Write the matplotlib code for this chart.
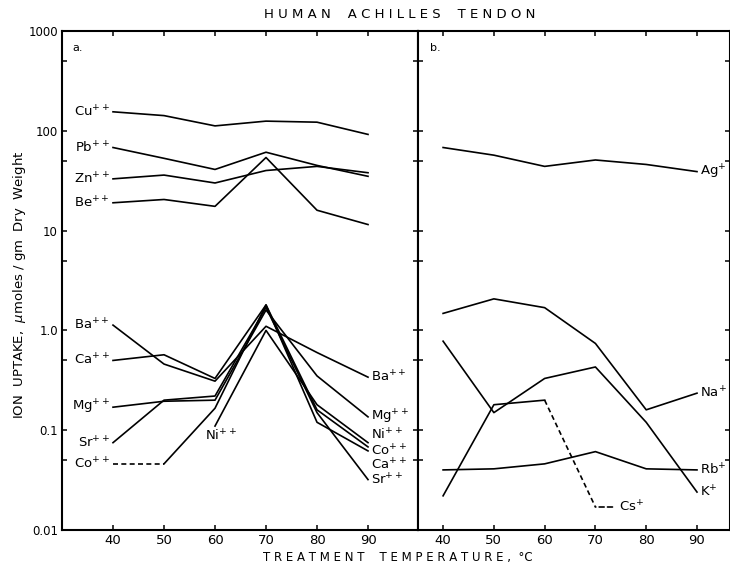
import matplotlib.pyplot as plt
from matplotlib.ticker import FixedLocator, NullFormatter

plt.rcParams['font.family'] = ['DejaVu Sans']
plt.rcParams['mathtext.fontset'] = 'dejavusans'

temps = [40, 50, 60, 70, 80, 90]

# panel a: divalent ions (umoles / gm dry weight)
cu = [155, 142, 112, 125, 122, 92]
pb = [68, 53, 41, 61, 45, 35]
zn = [33, 36, 30, 40, 44, 38]
be = [19, 20.5, 17.5, 54, 16, 11.5]
ba = [1.13, 0.46, 0.31, 1.1, 0.6, 0.34]
ca = [0.50, 0.57, 0.33, 1.8, 0.12, 0.062]
mg = [0.17, 0.195, 0.20, 1.6, 0.35, 0.136]
sr = [0.075, 0.20, 0.22, 1.7, 0.15, 0.032]
co = [0.046, 0.046, 0.166, 1.8, 0.16, 0.068]
ni_temps = [60, 70, 80, 90]
ni = [0.11, 1.0, 0.18, 0.075]

# panel b: monovalent ions
ag = [68, 57, 44, 51, 46, 39]
na = [1.48, 2.07, 1.69, 0.74, 0.16, 0.235]
k = [0.78, 0.15, 0.33, 0.43, 0.12, 0.024]
rb = [0.040, 0.041, 0.046, 0.061, 0.041, 0.040]
cs_temps = [40, 50, 60, 70]
cs = [0.022, 0.18, 0.20, 0.017]

ytick_vals = [0.01, 0.1, 1, 10, 100, 1000]
ytick_labels = ['0.01', '0.1', '1.0', '10', '100', '1000']
yminor_vals = [0.05, 0.5, 5, 50, 500]

fig = plt.figure(figsize=(7.3, 5.7), dpi=100)
ax1 = fig.add_axes([62 / 730, 1 - 530 / 570, 356 / 730, 499 / 570])
ax2 = fig.add_axes([418 / 730, 1 - 530 / 570, 312 / 730, 499 / 570])

lw = 1.2
for ax, xlim in ((ax1, (30, 99.8)), (ax2, (35.06, 96.5))):
    ax.set_yscale('log')
    ax.set_ylim(0.01, 1000)
    ax.set_xlim(*xlim)
    ax.xaxis.set_major_locator(FixedLocator(temps))
    ax.yaxis.set_major_locator(FixedLocator(ytick_vals))
    ax.yaxis.set_minor_locator(FixedLocator(yminor_vals))
    ax.yaxis.set_minor_formatter(NullFormatter())
    ax.tick_params(which='both', direction='in', top=True, right=True,
                   length=3.5, width=1.1, labelsize=9.5)
    ax.tick_params(axis='x', pad=3)
    for s in ax.spines.values():
        s.set_linewidth(1.5)

ax1.set_yticklabels(ytick_labels)
ax1.tick_params(axis='y', labelsize=8.5, pad=3)
ax2.set_yticklabels([])

# panel a lines
for vals in (cu, pb, zn, be, ba, ca, mg, sr):
    ax1.plot(temps, vals, color='black', lw=lw)
ax1.plot(temps[:2], co[:2], color='black', lw=lw, ls=(0, (3, 2)))
ax1.plot(temps[1:], co[1:], color='black', lw=lw)
ax1.plot(ni_temps, ni, color='black', lw=lw)

def sup(name, charge):
    return name + r'$^{' + charge + '}$'

left_lab = [('Cu', cu), ('Pb', pb), ('Zn', zn), ('Be', be), ('Ba', ba),
            ('Ca', ca), ('Mg', mg), ('Sr', sr), ('Co', co)]
for name, vals in left_lab:
    ax1.annotate(sup(name, '++'), (temps[0], vals[0]), xytext=(-3, 0),
                 textcoords='offset pixels', ha='right', va='center', fontsize=9.5)

right_lab = [('Ba', ba, 0), ('Mg', mg, 0), ('Ni', ni, 8), ('Co', co, -4),
             ('Ca', ca, -14), ('Sr', sr, 0)]
for name, vals, dy in right_lab:
    ax1.annotate(sup(name, '++'), (temps[-1], vals[-1]), xytext=(3, dy),
                 textcoords='offset pixels', ha='left', va='center', fontsize=9.5)
ax1.annotate(sup('Ni', '++'), (ni_temps[0], ni[0]), xytext=(6, -10),
             textcoords='offset pixels', ha='center', va='center', fontsize=9.5)
ax1.text(0.03, 0.975, 'a.', transform=ax1.transAxes, fontsize=8, va='top')

# panel b lines
for vals in (ag, na, k, rb):
    ax2.plot(temps, vals, color='black', lw=lw)
ax2.plot(cs_temps[:3], cs[:3], color='black', lw=lw)
ax2.plot(cs_temps[2:], cs[2:], color='black', lw=lw, ls=(0, (3, 2)))

for name, vals in (('Ag', ag), ('Na', na), ('Rb', rb), ('K', k)):
    ax2.annotate(sup(name, '+'), (temps[-1], vals[-1]), xytext=(3, 0),
                 textcoords='offset pixels', ha='left', va='center', fontsize=9.5)
ax2.annotate(sup('Cs', '+'), (cs_temps[-1], cs[-1]), xytext=(24, 0),
             textcoords='offset pixels', ha='left', va='center', fontsize=9.5,
             arrowprops=dict(arrowstyle='-', lw=lw, ls=(0, (3, 2)),
                             shrinkA=3, shrinkB=0))
ax2.text(0.04, 0.975, 'b.', transform=ax2.transAxes, fontsize=8, va='top')

fig.text(400 / 730, 1 - 14 / 570, 'H U M A N    A C H I L L E S    T E N D O N',
         ha='center', va='center', fontsize=9.5)
fig.text(398 / 730, 1 - 558 / 570, 'T R E A T M E N T    T E M P E R A T U R E ,  °C',
         ha='center', va='center', fontsize=8.5)
fig.text(20 / 730, 0.5, 'ION  UPTAKE,  $\\mu$moles / gm  Dry  Weight',
         rotation=90, ha='center', va='center', fontsize=9.5)

fig.savefig('out.png', dpi=100)
